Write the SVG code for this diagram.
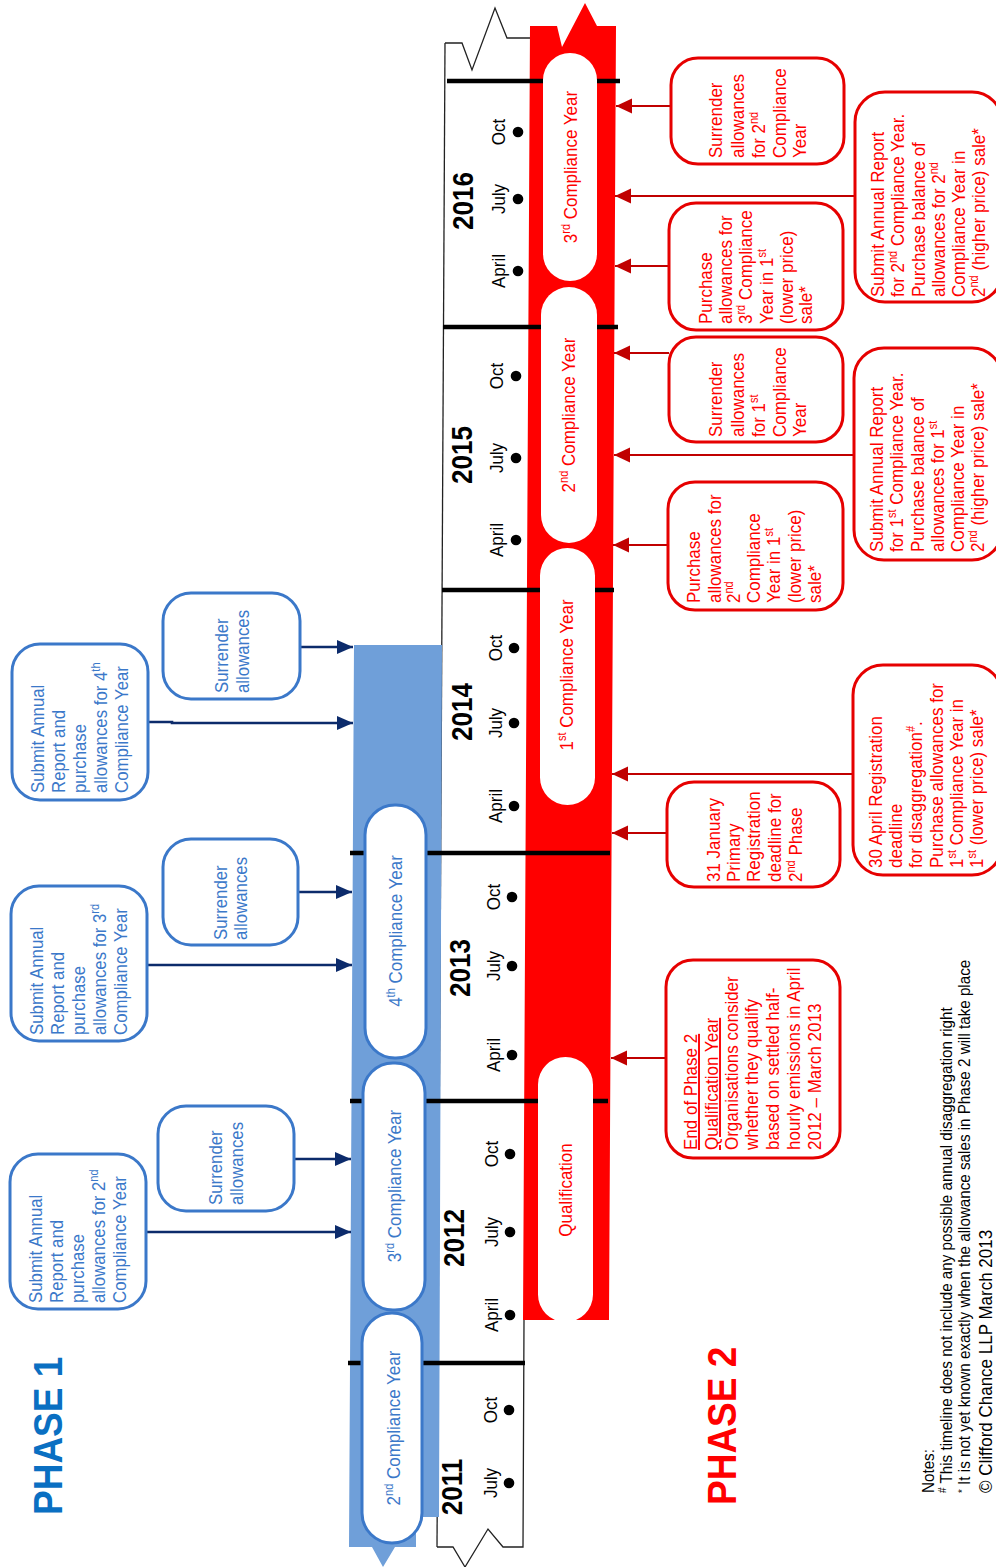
<svg xmlns="http://www.w3.org/2000/svg" width="996" height="1567" viewBox="0 0 996 1567">
<style>
.t{font-family:"Liberation Sans",Arial,sans-serif}
.rb{font-size:17px;fill:#ff0000}
.bb{font-size:16.8px;fill:#3b78c9}
.mo{font-size:17px;fill:#000;text-anchor:middle}
.yr{font-size:26px;font-weight:bold;fill:#000;text-anchor:middle}
.pr{font-size:17px;fill:#ff0000;text-anchor:middle}
.pb{font-size:17px;fill:#3b78c9;text-anchor:middle}
.nt{font-size:15.2px;fill:#000}
.rbox{fill:#fff;stroke:#e60000;stroke-width:3}
.bbox{fill:#fff;stroke:#3b78c9;stroke-width:3}
.bpill{fill:#fff;stroke:#3b78c9;stroke-width:3}
.rpill{fill:#fff}
.yl{stroke:#000;stroke-width:4.5}
.rc{stroke:#c00000;stroke-width:2.2;fill:none}
.bc{stroke:#0c2b6b;stroke-width:2.6;fill:none}
.edge{stroke:#222;stroke-width:1.3;fill:none}
</style>
<defs>
<marker id="ar" markerUnits="userSpaceOnUse" markerWidth="16" markerHeight="16" viewBox="0 0 16 16" refX="16" refY="8" orient="auto"><path d="M0,0.5 L16,8 L0,15.5 z" fill="#c00000"/></marker>
<marker id="ab" markerUnits="userSpaceOnUse" markerWidth="16" markerHeight="16" viewBox="0 0 16 16" refX="16" refY="8" orient="auto"><path d="M0,1 L16,8 L0,15 z" fill="#0c2b6b"/></marker>
</defs>
<rect width="996" height="1567" fill="#fff"/>

<g id="timeline">
<polyline class="edge" points="445,43 462,43 472,70 495,8 507,38 533,38"/>
<line class="edge" x1="445" y1="43" x2="437" y2="1547"/>
<polyline class="edge" points="437,1547 453,1547 465,1567 488,1529 503,1547 523,1547 524,1320"/>
</g>

<g id="phase1-bar">
<polygon fill="#6f9fd9" points="354,645 442,645 439,1517 416,1517 416,1547 395,1547 383,1567 372,1547 349,1547"/>
</g>
<g id="phase2-bar">
<polygon fill="#ff0000" points="530,26 557,26 562,47 585,3 597,26 616,26 609,1320 523,1320"/>
</g>

<g id="year-lines">
<line class="yl" x1="447" y1="81" x2="620" y2="81"/>
<line class="yl" x1="443" y1="327" x2="618" y2="327"/>
<line class="yl" x1="442" y1="590" x2="614" y2="590"/>
<line class="yl" x1="350" y1="853" x2="610" y2="853"/>
<line class="yl" x1="350" y1="1101" x2="608" y2="1101"/>
<line class="yl" x1="348" y1="1363" x2="525" y2="1363"/>
</g>

<g id="pill-p2-3rd"><rect class="rpill" x="543" y="53" width="54" height="228" rx="27"/>
<text class="t pr" transform="matrix(0,-1,1.12,0,577,167)">3<tspan font-size="11" dy="-6">rd</tspan><tspan dy="6"> Compliance Year</tspan></text></g>
<g id="pill-p2-2nd"><rect class="rpill" x="541" y="287" width="56" height="256" rx="28"/>
<text class="t pr" transform="matrix(0,-1,1.12,0,575,415)">2<tspan font-size="11" dy="-6">nd</tspan><tspan dy="6"> Compliance Year</tspan></text></g>
<g id="pill-p2-1st"><rect class="rpill" x="540" y="548" width="55" height="257" rx="27.5"/>
<text class="t pr" transform="matrix(0,-1,1.12,0,573,675)">1<tspan font-size="11" dy="-6">st</tspan><tspan dy="6"> Compliance Year</tspan></text></g>
<g id="pill-qual"><rect class="rpill" x="538" y="1057" width="55" height="265" rx="27.5"/>
<text class="t pr" transform="matrix(0,-1,1.12,0,572,1190)">Qualification</text></g>

<g id="pill-p1-4th"><rect class="bpill" x="365" y="805" width="61" height="253" rx="30"/>
<text class="t pb" transform="matrix(0,-1,1.12,0,402,931)">4<tspan font-size="11" dy="-6">th</tspan><tspan dy="6"> Compliance Year</tspan></text></g>
<g id="pill-p1-3rd"><rect class="bpill" x="363" y="1063" width="62" height="247" rx="30"/>
<text class="t pb" transform="matrix(0,-1,1.12,0,401,1186)">3<tspan font-size="11" dy="-6">rd</tspan><tspan dy="6"> Compliance Year</tspan></text></g>
<g id="pill-p1-2nd"><rect class="bpill" x="362" y="1313" width="60" height="230" rx="30"/>
<text class="t pb" transform="matrix(0,-1,1.12,0,400,1428)">2<tspan font-size="11" dy="-6">nd</tspan><tspan dy="6"> Compliance Year</tspan></text></g>

<g id="year-2016">
<text class="t yr" transform="matrix(0,-1,1.12,0,473,201)">2016</text>
<text class="t mo" transform="matrix(0,-1,1.12,0,505,271)">April</text><circle cx="518" cy="271" r="5.3"/>
<text class="t mo" transform="matrix(0,-1,1.12,0,505,199)">July</text><circle cx="518" cy="199" r="5.3"/>
<text class="t mo" transform="matrix(0,-1,1.12,0,505,132)">Oct</text><circle cx="518" cy="132" r="5.3"/>
</g>
<g id="year-2015">
<text class="t yr" transform="matrix(0,-1,1.12,0,472,455)">2015</text>
<text class="t mo" transform="matrix(0,-1,1.12,0,503,540)">April</text><circle cx="516" cy="540" r="5.3"/>
<text class="t mo" transform="matrix(0,-1,1.12,0,503,458)">July</text><circle cx="516" cy="458" r="5.3"/>
<text class="t mo" transform="matrix(0,-1,1.12,0,503,376)">Oct</text><circle cx="516" cy="376" r="5.3"/>
</g>
<g id="year-2014">
<text class="t yr" transform="matrix(0,-1,1.12,0,472,712)">2014</text>
<text class="t mo" transform="matrix(0,-1,1.12,0,502,806)">April</text><circle cx="514" cy="806" r="5.3"/>
<text class="t mo" transform="matrix(0,-1,1.12,0,502,723)">July</text><circle cx="514" cy="723" r="5.3"/>
<text class="t mo" transform="matrix(0,-1,1.12,0,502,648)">Oct</text><circle cx="514" cy="648" r="5.3"/>
</g>
<g id="year-2013">
<text class="t yr" transform="matrix(0,-1,1.12,0,470,968)">2013</text>
<text class="t mo" transform="matrix(0,-1,1.12,0,500,1055)">April</text><circle cx="512" cy="1055" r="5.3"/>
<text class="t mo" transform="matrix(0,-1,1.12,0,500,966)">July</text><circle cx="512" cy="966" r="5.3"/>
<text class="t mo" transform="matrix(0,-1,1.12,0,500,897)">Oct</text><circle cx="512" cy="897" r="5.3"/>
</g>
<g id="year-2012">
<text class="t yr" transform="matrix(0,-1,1.12,0,464,1238)">2012</text>
<text class="t mo" transform="matrix(0,-1,1.12,0,498,1315)">April</text><circle cx="510" cy="1315" r="5.3"/>
<text class="t mo" transform="matrix(0,-1,1.12,0,498,1232)">July</text><circle cx="510" cy="1232" r="5.3"/>
<text class="t mo" transform="matrix(0,-1,1.12,0,498,1154)">Oct</text><circle cx="510" cy="1154" r="5.3"/>
</g>
<g id="year-2011">
<text class="t yr" transform="matrix(0,-1,1.12,0,462,1487)">2011</text>
<text class="t mo" transform="matrix(0,-1,1.12,0,497,1483)">July</text><circle cx="509" cy="1483" r="5.3"/>
<text class="t mo" transform="matrix(0,-1,1.12,0,497,1410)">Oct</text><circle cx="509" cy="1410" r="5.3"/>
</g>

<g id="connectors">
<line class="rc" x1="671" y1="106" x2="616" y2="106" marker-end="url(#ar)"/>
<line class="rc" x1="855" y1="196" x2="615" y2="196" marker-end="url(#ar)"/>
<line class="rc" x1="669" y1="266" x2="615" y2="266" marker-end="url(#ar)"/>
<line class="rc" x1="669" y1="353" x2="614" y2="353" marker-end="url(#ar)"/>
<line class="rc" x1="854" y1="455" x2="614" y2="455" marker-end="url(#ar)"/>
<line class="rc" x1="668" y1="545" x2="613" y2="545" marker-end="url(#ar)"/>
<line class="rc" x1="853" y1="774" x2="612" y2="774" marker-end="url(#ar)"/>
<line class="rc" x1="667" y1="833" x2="612" y2="833" marker-end="url(#ar)"/>
<line class="rc" x1="666" y1="1058" x2="611" y2="1058" marker-end="url(#ar)"/>
<line class="bc" x1="300" y1="647" x2="353" y2="647" marker-end="url(#ab)"/>
<polyline class="bc" points="148,722 172,722 172,723 353,723" marker-end="url(#ab)"/>
<line class="bc" x1="298" y1="892" x2="352" y2="892" marker-end="url(#ab)"/>
<line class="bc" x1="147" y1="965" x2="352" y2="965" marker-end="url(#ab)"/>
<line class="bc" x1="294" y1="1159" x2="351" y2="1159" marker-end="url(#ab)"/>
<line class="bc" x1="146" y1="1232" x2="351" y2="1232" marker-end="url(#ab)"/>
</g>

<g id="box-surrender-2nd">
<rect class="rbox" x="671" y="58" width="173" height="106" rx="27"/>
<text class="t rb" transform="matrix(0,-1,1.12,0,722,158)">Surrender</text>
<text class="t rb" transform="matrix(0,-1,1.12,0,744,158)">allowances</text>
<text class="t rb" transform="matrix(0,-1,1.12,0,765,158)">for 2<tspan font-size="11" dy="-6">nd</tspan></text>
<text class="t rb" transform="matrix(0,-1,1.12,0,786,158)">Compliance</text>
<text class="t rb" transform="matrix(0,-1,1.12,0,806,158)">Year</text>
</g>
<g id="box-submit-2nd">
<rect class="rbox" x="855" y="92" width="147" height="210" rx="30"/>
<text class="t rb" transform="matrix(0,-1,1.12,0,884,297)">Submit Annual Report</text>
<text class="t rb" transform="matrix(0,-1,1.12,0,904,297)">for 2<tspan font-size="11" dy="-6">nd</tspan><tspan dy="6"> Compliance Year.</tspan></text>
<text class="t rb" transform="matrix(0,-1,1.12,0,925,297)">Purchase balance of</text>
<text class="t rb" transform="matrix(0,-1,1.12,0,945,297)">allowances for 2<tspan font-size="11" dy="-6">nd</tspan></text>
<text class="t rb" transform="matrix(0,-1,1.12,0,965,297)">Compliance Year in</text>
<text class="t rb" transform="matrix(0,-1,1.12,0,985,297)">2<tspan font-size="11" dy="-6">nd</tspan><tspan dy="6">  (higher price) sale*</tspan></text>
</g>
<g id="box-purchase-3rd">
<rect class="rbox" x="669" y="203" width="174" height="127" rx="27"/>
<text class="t rb" transform="matrix(0,-1,1.12,0,712,324)">Purchase</text>
<text class="t rb" transform="matrix(0,-1,1.12,0,732,324)">allowances for</text>
<text class="t rb" transform="matrix(0,-1,1.12,0,752,324)">3<tspan font-size="11" dy="-6">rd</tspan><tspan dy="6"> Compliance</tspan></text>
<text class="t rb" transform="matrix(0,-1,1.12,0,773,324)">Year in 1<tspan font-size="11" dy="-6">st</tspan></text>
<text class="t rb" transform="matrix(0,-1,1.12,0,793,324)">(lower price)</text>
<text class="t rb" transform="matrix(0,-1,1.12,0,812,324)">sale*</text>
</g>
<g id="box-surrender-1st">
<rect class="rbox" x="669" y="337" width="174" height="105" rx="27"/>
<text class="t rb" transform="matrix(0,-1,1.12,0,722,437)">Surrender</text>
<text class="t rb" transform="matrix(0,-1,1.12,0,744,437)">allowances</text>
<text class="t rb" transform="matrix(0,-1,1.12,0,765,437)">for 1<tspan font-size="11" dy="-6">st</tspan></text>
<text class="t rb" transform="matrix(0,-1,1.12,0,786,437)">Compliance</text>
<text class="t rb" transform="matrix(0,-1,1.12,0,806,437)">Year</text>
</g>
<g id="box-submit-1st">
<rect class="rbox" x="854" y="348" width="148" height="212" rx="30"/>
<text class="t rb" transform="matrix(0,-1,1.12,0,883,552)">Submit Annual Report</text>
<text class="t rb" transform="matrix(0,-1,1.12,0,903,552)">for 1<tspan font-size="11" dy="-6">st</tspan><tspan dy="6"> Compliance Year.</tspan></text>
<text class="t rb" transform="matrix(0,-1,1.12,0,924,552)">Purchase balance of</text>
<text class="t rb" transform="matrix(0,-1,1.12,0,944,552)">allowances for 1<tspan font-size="11" dy="-6">st</tspan></text>
<text class="t rb" transform="matrix(0,-1,1.12,0,964,552)">Compliance Year in</text>
<text class="t rb" transform="matrix(0,-1,1.12,0,984,552)">2<tspan font-size="11" dy="-6">nd</tspan><tspan dy="6">  (higher price) sale*</tspan></text>
</g>
<g id="box-purchase-2nd">
<rect class="rbox" x="668" y="482" width="175" height="128" rx="27"/>
<text class="t rb" transform="matrix(0,-1,1.12,0,700,603)">Purchase</text>
<text class="t rb" transform="matrix(0,-1,1.12,0,721,603)">allowances for</text>
<text class="t rb" transform="matrix(0,-1,1.12,0,740,603)">2<tspan font-size="11" dy="-6">nd</tspan></text>
<text class="t rb" transform="matrix(0,-1,1.12,0,760,603)">Compliance</text>
<text class="t rb" transform="matrix(0,-1,1.12,0,780,603)">Year in 1<tspan font-size="11" dy="-6">st</tspan></text>
<text class="t rb" transform="matrix(0,-1,1.12,0,801,603)">(lower price)</text>
<text class="t rb" transform="matrix(0,-1,1.12,0,821,603)">sale*</text>
</g>
<g id="box-30-april">
<rect class="rbox" x="853" y="665" width="149" height="210" rx="30"/>
<text class="t rb" transform="matrix(0,-1,1.12,0,882,868)">30 April Registration</text>
<text class="t rb" transform="matrix(0,-1,1.12,0,902,868)">deadline</text>
<text class="t rb" transform="matrix(0,-1,1.12,0,922,868)">for disaggregation<tspan font-size="11" dy="-6">#</tspan><tspan dy="6">.</tspan></text>
<text class="t rb" transform="matrix(0,-1,1.12,0,943,868)">Purchase allowances for</text>
<text class="t rb" transform="matrix(0,-1,1.12,0,963,868)">1<tspan font-size="11" dy="-6">st</tspan><tspan dy="6">  Compliance Year in</tspan></text>
<text class="t rb" transform="matrix(0,-1,1.12,0,983,868)">1<tspan font-size="11" dy="-6">st</tspan><tspan dy="6"> (lower price) sale*</tspan></text>
</g>
<g id="box-31-january">
<rect class="rbox" x="667" y="782" width="173" height="105" rx="27"/>
<text class="t rb" transform="matrix(0,-1,1.12,0,720,882)">31 January</text>
<text class="t rb" transform="matrix(0,-1,1.12,0,740,882)">Primary</text>
<text class="t rb" transform="matrix(0,-1,1.12,0,760,882)">Registration</text>
<text class="t rb" transform="matrix(0,-1,1.12,0,781,882)">deadline for</text>
<text class="t rb" transform="matrix(0,-1,1.12,0,802,882)">2<tspan font-size="11" dy="-6">nd</tspan><tspan dy="6"> Phase</tspan></text>
</g>
<g id="box-end-phase2">
<rect class="rbox" x="666" y="960" width="174" height="198" rx="27"/>
<text class="t rb" text-decoration="underline" transform="matrix(0,-1,1.12,0,697,1150)">End of Phase 2</text>
<text class="t rb" text-decoration="underline" transform="matrix(0,-1,1.12,0,718,1150)">Qualification Year</text>
<text class="t rb" transform="matrix(0,-1,1.12,0,738,1150)">Organisations consider</text>
<text class="t rb" transform="matrix(0,-1,1.12,0,758,1150)">whether they qualify</text>
<text class="t rb" transform="matrix(0,-1,1.12,0,779,1150)">based on settled half-</text>
<text class="t rb" transform="matrix(0,-1,1.12,0,800,1150)">hourly emissions in April</text>
<text class="t rb" transform="matrix(0,-1,1.12,0,821,1150)">2012 – March 2013</text>
</g>

<g id="box-p1-surrender-a">
<rect class="bbox" x="163" y="593" width="137" height="106" rx="28"/>
<text class="t bb" transform="matrix(0,-1,1.12,0,228,693)">Surrender</text>
<text class="t bb" transform="matrix(0,-1,1.12,0,249,693)">allowances</text>
</g>
<g id="box-p1-submit-4th">
<rect class="bbox" x="12" y="644" width="136" height="156" rx="28"/>
<text class="t bb" transform="matrix(0,-1,1.12,0,44,793)">Submit Annual</text>
<text class="t bb" transform="matrix(0,-1,1.12,0,65,793)">Report and</text>
<text class="t bb" transform="matrix(0,-1,1.12,0,86,793)">purchase</text>
<text class="t bb" transform="matrix(0,-1,1.12,0,107,793)">allowances for 4<tspan font-size="11" dy="-6">th</tspan></text>
<text class="t bb" transform="matrix(0,-1,1.12,0,128,793)">Compliance Year</text>
</g>
<g id="box-p1-surrender-b">
<rect class="bbox" x="163" y="839" width="135" height="106" rx="28"/>
<text class="t bb" transform="matrix(0,-1,1.12,0,227,940)">Surrender</text>
<text class="t bb" transform="matrix(0,-1,1.12,0,247,940)">allowances</text>
</g>
<g id="box-p1-submit-3rd">
<rect class="bbox" x="11" y="886" width="136" height="155" rx="28"/>
<text class="t bb" transform="matrix(0,-1,1.12,0,43,1035)">Submit Annual</text>
<text class="t bb" transform="matrix(0,-1,1.12,0,64,1035)">Report and</text>
<text class="t bb" transform="matrix(0,-1,1.12,0,85,1035)">purchase</text>
<text class="t bb" transform="matrix(0,-1,1.12,0,106,1035)">allowances for 3<tspan font-size="11" dy="-6">rd</tspan></text>
<text class="t bb" transform="matrix(0,-1,1.12,0,127,1035)">Compliance Year</text>
</g>
<g id="box-p1-surrender-c">
<rect class="bbox" x="158" y="1106" width="136" height="105" rx="28"/>
<text class="t bb" transform="matrix(0,-1,1.12,0,222,1205)">Surrender</text>
<text class="t bb" transform="matrix(0,-1,1.12,0,243,1205)">allowances</text>
</g>
<g id="box-p1-submit-2nd">
<rect class="bbox" x="10" y="1154" width="136" height="155" rx="28"/>
<text class="t bb" transform="matrix(0,-1,1.12,0,42,1303)">Submit Annual</text>
<text class="t bb" transform="matrix(0,-1,1.12,0,63,1303)">Report and</text>
<text class="t bb" transform="matrix(0,-1,1.12,0,84,1303)">purchase</text>
<text class="t bb" transform="matrix(0,-1,1.12,0,105,1303)">allowances for 2<tspan font-size="11" dy="-6">nd</tspan></text>
<text class="t bb" transform="matrix(0,-1,1.12,0,126,1303)">Compliance Year</text>
</g>

<g id="phase-labels">
<text class="t" font-size="37" font-weight="bold" fill="#0a6fc2" transform="matrix(0,-1,1.12,0,62,1515)">PHASE 1</text>
<text class="t" font-size="37" font-weight="bold" fill="#ff0000" transform="matrix(0,-1,1.12,0,736,1505)">PHASE 2</text>
</g>

<g id="notes">
<text class="t nt" transform="matrix(0,-1,1.12,0,934,1493)">Notes:</text>
<text class="t nt" transform="matrix(0,-1,1.12,0,952,1493)"><tspan font-size="10" dy="-5">#</tspan><tspan dy="5"> This timeline does not include any possible annual disaggregation right</tspan></text>
<text class="t nt" transform="matrix(0,-1,1.12,0,970,1493)"><tspan font-size="10" dy="-4">*</tspan><tspan dy="4"> It is not yet known exactly when the allowance sales in Phase 2 will take place</tspan></text>
<text class="t" font-size="17" transform="matrix(0,-1,1.05,0,992,1493)">© Clifford Chance LLP March 2013</text>
</g>
</svg>
